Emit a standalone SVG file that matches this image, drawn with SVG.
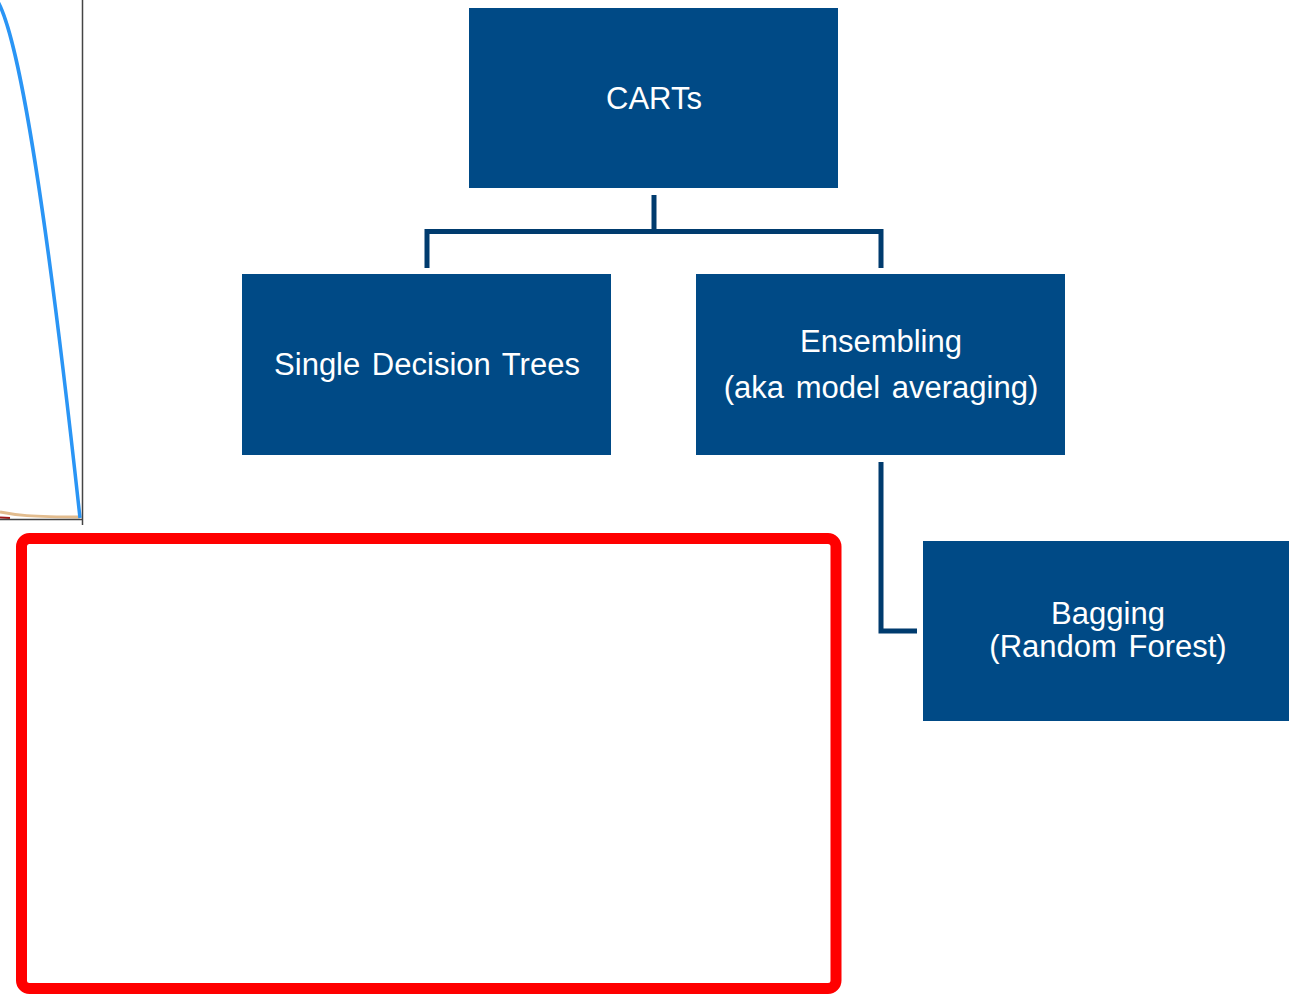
<svg xmlns="http://www.w3.org/2000/svg" width="1289" height="994" viewBox="0 0 1289 994">
<style>
.box{fill:#004A86;}
.lbl{font-family:"Liberation Sans",Arial,sans-serif;font-size:31px;fill:#ffffff;text-anchor:middle;word-spacing:3px;}
.conn{stroke:#003B6E;stroke-width:5;fill:none;stroke-linejoin:miter;}
</style>
<rect width="1289" height="994" fill="#ffffff"/>
<g id="chart">
<path d="M0,512 C15,515 30,517 80,517" fill="none" stroke="#E2BC8E" stroke-width="3"/>
<path d="M0,517.5 L10,518" stroke="#A01818" stroke-width="2"/>
<path d="M-3,0 C15,30 40,150 80,518" fill="none" stroke="#2A95F5" stroke-width="3.5"/>
<line x1="0" y1="519.5" x2="83" y2="519.5" stroke="#444" stroke-width="1.5"/>
<line x1="82.5" y1="0" x2="82.5" y2="525" stroke="#444" stroke-width="1.5"/>
</g>
<g id="connectors">
<polyline class="conn" points="654,195 654,231.5"/>
<polyline class="conn" points="427,268 427,231.5 881,231.5 881,268"/>
<polyline class="conn" points="881,462 881,631 917,631"/>
</g>
<g id="node-carts">
<rect class="box" x="469" y="8" width="369" height="180"/>
<text class="lbl" x="654" y="109">CARTs</text>
</g>
<g id="node-single">
<rect class="box" x="242" y="274" width="369" height="181"/>
<text class="lbl" x="427" y="375">Single Decision Trees</text>
</g>
<g id="node-ensembling">
<rect class="box" x="696" y="274" width="369" height="181"/>
<text class="lbl" x="881" y="352">Ensembling</text>
<text class="lbl" x="881" y="398">(aka model averaging)</text>
</g>
<g id="node-bagging">
<rect class="box" x="923" y="541" width="370" height="180"/>
<text class="lbl" x="1108" y="624">Bagging</text>
<text class="lbl" x="1108" y="657">(Random Forest)</text>
</g>
<g id="highlight">
<rect x="21.5" y="538.5" width="814.5" height="450" rx="8" fill="none" stroke="#FF0000" stroke-width="11"/>
</g>
</svg>
